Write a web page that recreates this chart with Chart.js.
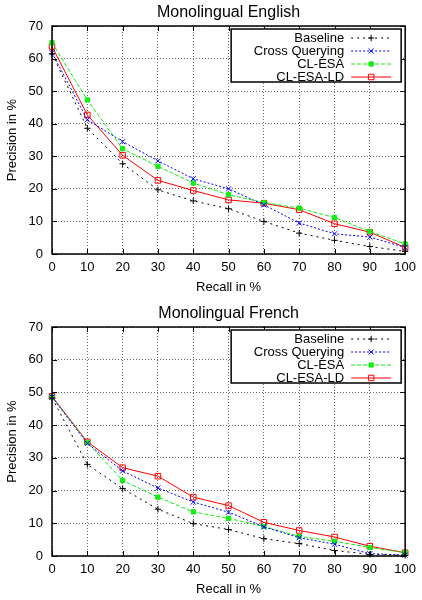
<!DOCTYPE html>
<html lang="en">
  <head>
    <meta charset="UTF-8" />
    <title>Monolingual precision / recall</title>
    <script src="https://cdn.jsdelivr.net/npm/chart.js@4.4.1/dist/chart.umd.min.js"></script>
    <style>
      body { margin: 0; background: #fff; }
      canvas { display: block; }
    </style>
  </head>
  <body>
    <canvas id="chartEn" width="422" height="300"></canvas>
    <canvas id="chartFr" width="422" height="300"></canvas>
    <script>
      const recall = [0, 10, 20, 30, 40, 50, 60, 70, 80, 90, 100]
      const seriesNames = ["Baseline", "Cross Querying", "CL-ESA", "CL-ESA-LD"]

      // Monolingual English
      const enBaseline = [61.5, 38.6, 27.7, 19.7, 16.3, 13.9, 10.0, 6.4, 4.2, 2.3, 0.8]
      const enCrossQuerying = [61.8, 41.2, 34.5, 28.6, 23.1, 20.0, 15.1, 9.5, 6.2, 5.2, 2.0]
      const enClEsa = [64.9, 47.3, 32.3, 26.9, 21.8, 18.2, 15.8, 14.1, 11.2, 6.9, 3.1]
      const enClEsaLd = [63.7, 42.7, 30.3, 22.6, 19.5, 16.6, 15.6, 13.6, 9.3, 6.7, 2.0]

      // Monolingual French
      const frBaseline = [48.3, 28.0, 20.6, 14.3, 9.9, 8.1, 5.3, 3.8, 1.7, 0.5, 0.2]
      const frCrossQuerying = [48.6, 34.4, 26.0, 20.8, 16.5, 13.4, 8.9, 5.6, 3.6, 0.7, 0.3]
      const frClEsa = [48.6, 34.7, 23.1, 18.0, 13.5, 11.5, 9.0, 6.0, 4.5, 2.6, 1.0]
      const frClEsaLd = [48.8, 34.9, 27.0, 24.4, 18.0, 15.4, 10.3, 7.8, 5.8, 3.0, 1.0]

      const FONT = "'Liberation Sans', Arial, Helvetica, sans-serif"

      const styles = [
        { color: "#000000", dash: [2, 4], pointStyle: "cross", radius: 3.2, fill: "#000000" },
        { color: "#0000ff", dash: [2, 2], pointStyle: "crossRot", radius: 3.6, fill: "#0000ff" },
        { color: "#11ee11", dash: [4, 2], pointStyle: "rect", radius: 3.0, fill: "#11ee11" },
        { color: "#ff0000", dash: [], pointStyle: "rect", radius: 3.9, fill: "rgba(0,0,0,0)" },
      ]

      function toPoints(values) {
        return values.map((v, i) => ({ x: recall[i], y: v }))
      }

      // gnuplot-like frame, inner ticks, title and legend box
      const gnuplotLook = {
        id: "gnuplotLook",
        afterDatasetsDraw(chart, args, opts) {
          const ctx = chart.ctx
          const a = chart.chartArea
          const xs = chart.scales.x
          const ys = chart.scales.y
          ctx.save()

          // inner tick marks on all four sides
          ctx.strokeStyle = "#000"
          ctx.lineWidth = 1
          ctx.beginPath()
          xs.ticks.forEach((t) => {
            const px = Math.round(xs.getPixelForValue(t.value)) + 0.5
            ctx.moveTo(px, a.bottom); ctx.lineTo(px, a.bottom - 5)
            ctx.moveTo(px, a.top); ctx.lineTo(px, a.top + 5)
          })
          ys.ticks.forEach((t) => {
            const py = Math.round(ys.getPixelForValue(t.value)) + 0.5
            ctx.moveTo(a.left, py); ctx.lineTo(a.left + 5, py)
            ctx.moveTo(a.right, py); ctx.lineTo(a.right - 5, py)
          })
          ctx.stroke()

          // legend box
          const bx = a.right - 174
          const by = a.top + 3
          const bw = 170
          const bh = 53
          ctx.fillStyle = "#fff"
          ctx.fillRect(bx, by, bw, bh)
          ctx.lineWidth = 1.5
          ctx.strokeStyle = "#000"
          ctx.strokeRect(bx, by, bw, bh)
          ctx.font = "13px " + FONT
          ctx.textAlign = "right"
          ctx.textBaseline = "middle"
          seriesNames.forEach((name, i) => {
            const st = styles[i]
            const cy = by + 9 + i * 13
            ctx.fillStyle = "#000"
            ctx.fillText(name, bx + 113, cy)
            ctx.save()
            ctx.strokeStyle = st.color
            ctx.lineWidth = 1
            ctx.setLineDash(st.dash)
            ctx.beginPath()
            ctx.moveTo(bx + 120, cy)
            ctx.lineTo(bx + 160, cy)
            ctx.stroke()
            ctx.restore()
            ctx.save()
            ctx.strokeStyle = st.color
            ctx.fillStyle = st.fill
            ctx.lineWidth = 1
            Chart.helpers.drawPoint(ctx, { pointStyle: st.pointStyle, radius: st.radius, rotation: 0, borderWidth: 1 }, bx + 140, cy)
            ctx.restore()
          })

          // frame
          ctx.lineWidth = 1.5
          ctx.strokeStyle = "#000"
          ctx.strokeRect(a.left, a.top, a.right - a.left, a.bottom - a.top)

          // title
          ctx.fillStyle = "#000"
          ctx.font = "16px " + FONT
          ctx.textAlign = "center"
          ctx.textBaseline = "middle"
          ctx.fillText(opts.text, (a.left + a.right) / 2, a.top - 13)
          ctx.restore()
        },
      }

      function drawChart(canvasId, title, seriesValues, top, xHeight, xTitleGap) {
        const ctx = document.getElementById(canvasId).getContext("2d")
        return new Chart(ctx, {
          type: "line",
          data: {
            datasets: seriesValues.map((values, i) => ({
              label: seriesNames[i],
              data: toPoints(values),
              borderColor: styles[i].color,
              borderWidth: 1,
              borderDash: styles[i].dash,
              pointStyle: styles[i].pointStyle,
              pointRadius: styles[i].radius,
              pointBorderWidth: 1,
              pointBorderColor: styles[i].color,
              pointBackgroundColor: styles[i].fill,
              tension: 0,
              clip: false,
            })),
          },
          options: {
            responsive: false,
            animation: false,
            layout: { padding: { top: top, right: 13, left: 0, bottom: 0 } },
            plugins: {
              legend: { display: false },
              tooltip: { enabled: false },
              gnuplotLook: { text: title },
            },
            scales: {
              x: {
                type: "linear",
                min: 0,
                max: 100,
                ticks: { stepSize: 10, padding: 6, color: "#000", font: { family: FONT, size: 13 } },
                grid: { color: "#666", lineWidth: 1, drawTicks: false },
                border: { display: false, dash: [1, 2] },
                title: { display: true, text: "Recall in %", color: "#000", font: { family: FONT, size: 13 }, padding: { top: 0, bottom: xTitleGap } },
                afterFit: (scale) => { scale.height = xHeight },
              },
              y: {
                min: 0,
                max: 70,
                ticks: { stepSize: 10, padding: 9, color: "#000", font: { family: FONT, size: 13 } },
                grid: { color: "#666", lineWidth: 1, drawTicks: false },
                border: { display: false, dash: [1, 2] },
                title: { display: true, text: "Precision in %", color: "#000", font: { family: FONT, size: 13 }, padding: { top: 5, bottom: 0 } },
                afterFit: (scale) => { scale.width = 52 },
              },
            },
          },
          plugins: [gnuplotLook],
        })
      }

      drawChart("chartEn", "Monolingual English", [enBaseline, enCrossQuerying, enClEsa, enClEsaLd], 26, 46, 5)
      drawChart("chartFr", "Monolingual French", [frBaseline, frCrossQuerying, frClEsa, frClEsaLd], 27, 44, 3)
    </script>
  </body>
</html>
